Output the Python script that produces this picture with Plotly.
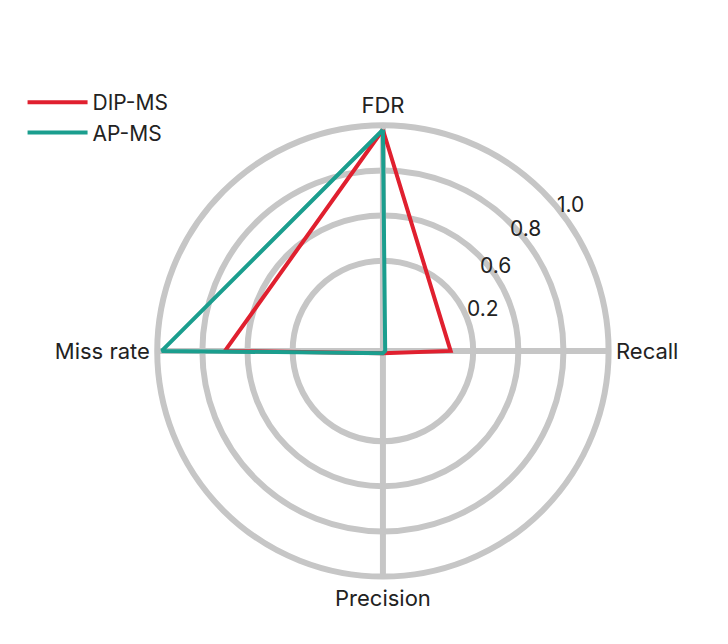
import plotly.graph_objects as go

categories = ["FDR", "Recall", "Precision", "Miss rate"]
dip_ms = [0.98, 0.30, 0.01, 0.70]
ap_ms = [0.98, 0.01, 0.01, 0.98]
tick_vals = [0.4, 0.6, 0.8, 1.0]
tick_text = ["0.2", "0.6", "0.8", "1.0"]
tick_px = [(475, 300), (505, 257), (535, 220), (578, 182)]

W, H = 728, 644
fig = go.Figure()
for name, vals, col in [("DIP-MS", dip_ms, "#e0202f"), ("AP-MS", ap_ms, "#1b9e8e")]:
    fig.add_trace(go.Scatterpolar(r=vals + vals[:1], theta=categories + categories[:1],
                                  mode="lines", name=name, line=dict(color=col, width=4)))

for t, (px, py) in zip(tick_text, tick_px):
    fig.add_annotation(x=px / W, y=1 - py / H, xref="paper", yref="paper", text=t,
                       showarrow=False, font=dict(size=21, color="#222"))

fig.update_layout(
    width=W, height=H, margin=dict(l=0, r=0, t=0, b=0),
    paper_bgcolor="white", font=dict(family="Inter", size=22, color="#222"),
    legend=dict(x=0.02, y=0.885, xanchor="left", yanchor="top", font=dict(size=21),
                itemwidth=60, bgcolor="rgba(0,0,0,0)"),
    polar=dict(
        domain=dict(x=[0.205, 0.825], y=[0.115, 0.82]),
        bgcolor="white",
        radialaxis=dict(range=[0, 1], tickvals=tick_vals, showticklabels=False, angle=42,
                        showline=False, ticks="", gridcolor="#c6c6c6", gridwidth=6),
        angularaxis=dict(rotation=90, direction="clockwise", gridcolor="#c6c6c6", gridwidth=6,
                         linecolor="#c6c6c6", linewidth=6, ticks="", tickfont=dict(size=22)),
    ),
)
fig.write_html("out.html")
